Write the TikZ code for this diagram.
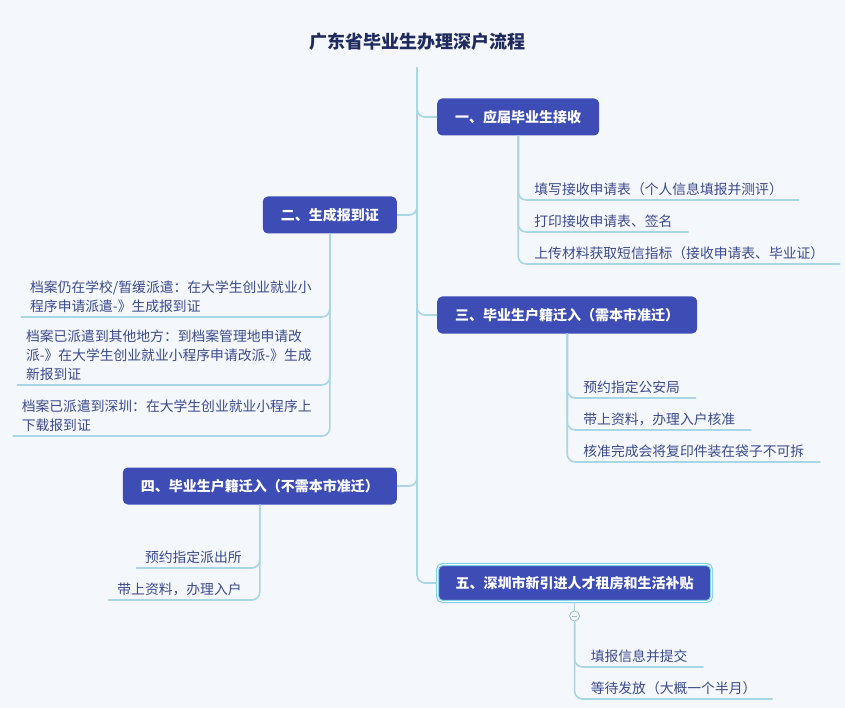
\documentclass[tikz,border=0pt]{standalone}
\usepackage{fontspec}
\setmainfont{Noto Sans CJK SC}
\definecolor{bgpale}{HTML}{F4F7FB}
\definecolor{branchblue}{HTML}{3D4DB5}
\definecolor{linkblue}{HTML}{A9D6E4}
\definecolor{leafink}{HTML}{3C4A8C}
\definecolor{titleink}{HTML}{1F2A5E}
\definecolor{selring}{HTML}{7FD3EA}

\begin{document}
\begin{tikzpicture}[x=1pt, y=-1pt]
        \tikzset{
            branch/.style={fill=branchblue, text=white, rounded corners=5pt, minimum height=37pt, inner xsep=18pt, font=\fontsize{14}{16}\selectfont\bfseries},
            leaf/.style={text=leafink, inner ysep=4pt, align=left, font=\fontsize{13.8}{19}\selectfont},
            rightleaf/.style={leaf, inner xsep=16pt, anchor=south west},
            leftleaf/.style={leaf, inner xsep=9pt, anchor=south east, xshift=-9pt},
            link/.style={draw=linkblue, line width=1.6pt, rounded corners=8pt},
            fold/.style={circle, draw=linkblue!70!gray, fill=bgpale, inner sep=0pt, minimum size=10pt, line width=0.8pt}
        }

        \useasboundingbox[fill=bgpale] (0,0) rectangle (845,708);

        % Title
        \node[font=\fontsize{18}{20}\selectfont\bfseries, text=titleink, minimum height=50pt] (title) at (417,42) {广东省毕业生办理深户流程};

        % Branch 1 - receiving
        \node[branch, anchor=west] (b1) at (437,117) {一、应届毕业生接收};
        \node[rightleaf] (l11) at (b1.south |- 0,200) {填写接收申请表（个人信息填报并测评）};
        \node[rightleaf] (l12) at (b1.south |- 0,232) {打印接收申请表、签名};
        \node[rightleaf] (l13) at (b1.south |- 0,264) {上传材料获取短信指标（接收申请表、毕业证）};

        % Branch 2 - report card
        \node[branch, anchor=east] (b2) at (397,215) {二、生成报到证};
        \node[leftleaf] (l21) at (b2.south |- 0,317) {档案仍在学校/暂缓派遣：在大学生创业就业小\\程序申请派遣-》生成报到证};
        \node[leftleaf] (l22) at (b2.south |- 0,385) {档案已派遣到其他地方：到档案管理地申请改\\派-》在大学生创业就业小程序申请改派-》生成\\新报到证};
        \node[leftleaf] (l23) at (b2.south |- 0,436) {档案已派遣到深圳：在大学生创业就业小程序上\\下载报到证};

        % Branch 3 - hukou, approval needed
        \node[branch, anchor=west] (b3) at (437,315) {三、毕业生户籍迁入（需本市准迁）};
        \node[rightleaf] (l31) at (b3.south |- 0,398) {预约指定公安局};
        \node[rightleaf] (l32) at (b3.south |- 0,430) {带上资料，办理入户核准};
        \node[rightleaf] (l33) at (b3.south |- 0,462) {核准完成会将复印件装在袋子不可拆};

        % Branch 4 - hukou, no approval
        \node[branch, anchor=east] (b4) at (397,486) {四、毕业生户籍迁入（不需本市准迁）};
        \node[leftleaf] (l41) at (b4.south |- 0,568) {预约指定派出所};
        \node[leftleaf] (l42) at (b4.south |- 0,600) {带上资料，办理入户};

        % Branch 5 - subsidy (selected)
        \node[branch, anchor=west, draw=selring, line width=1.2pt, double=white, double distance=0.8pt] (b5) at (437,583) {五、深圳市新引进人才租房和生活补贴};
        \node[fold, path picture={\draw[linkblue!70!gray, line width=0.6pt] ([xshift=-2.5pt]path picture bounding box.center) -- ([xshift=2.5pt]path picture bounding box.center);}] (f5) at (b5.south |- 0,616) {};
        \node[rightleaf] (l51) at (b5.south |- 0,667) {填报信息并提交};
        \node[rightleaf] (l52) at (b5.south |- 0,699) {等待发放（大概一个半月）};

        % Trunk
        \draw[link] (title.south) |- (b1.west);
        \draw[link] (title.south) |- (b2.east);
        \draw[link] (title.south) |- (b3.west);
        \draw[link] (title.south) |- (b4.east);
        \draw[link] (title.south) |- (b5.west);

        % Leaf connectors
        \foreach \leaf in {l11, l12, l13}
            \draw[link] (b1.south) |- (\leaf.south east);
        \foreach \leaf in {l21, l22, l23}
            \draw[link] (b2.south) |- (\leaf.south west);
        \foreach \leaf in {l31, l32, l33}
            \draw[link] (b3.south) |- (\leaf.south east);
        \foreach \leaf in {l41, l42}
            \draw[link] (b4.south) |- (\leaf.south west);
        \draw[link] (b5.south) -- (f5.north);
        \foreach \leaf in {l51, l52}
            \draw[link] (f5.south) |- (\leaf.south east);
\end{tikzpicture}
\end{document}
